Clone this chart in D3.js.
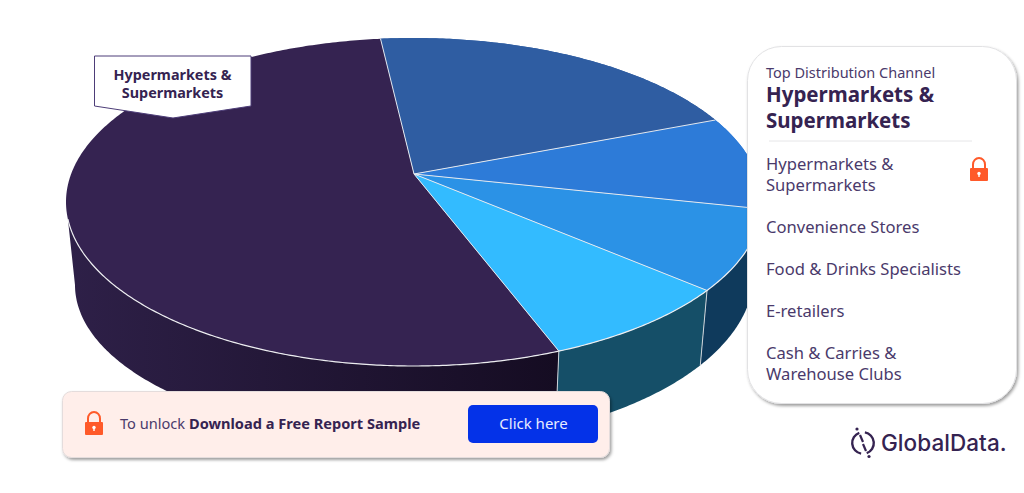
<!DOCTYPE html>
<html><head><meta charset="utf-8">
<script src="https://cdn.jsdelivr.net/npm/d3@7"></script>
<style>html,body{margin:0;padding:0;background:#fff;overflow:hidden}svg{display:block}text{font-family:"Noto Sans",sans-serif}</style>
</head><body><svg id="c" width="1024" height="493"></svg>
<script>
const categories=["Hypermarkets & Supermarkets","Convenience Stores","Food & Drinks Specialists","E-retailers","Cash & Carries & Warehouse Clubs"];
const legendLines=[["Hypermarkets &","Supermarkets"],["Convenience Stores"],["Food & Drinks Specialists"],["E-retailers"],["Cash & Carries &","Warehouse Clubs"]];
const shares=[55.3,18.2,9.0,8.4,9.1];
const topColors=["#352351","#2f5da2","#2d7bd8","#2b92e6","#33bbff"];
const sideColors=["url(#sideDark)","#2f5da2","#2d7bd8","#0f3a5c","#154f68"];
const calloutLines=["Hypermarkets &","Supermarkets"];
const panelLabel="Top Distribution Channel";
const panelTitle=["Hypermarkets &","Supermarkets"];
const itemBaselines=[[170,191],[233],[275],[317],[359,380]];

const svg=d3.select("#c");
const defs=svg.append("defs");
const g=defs.append("linearGradient").attr("id","sideDark").attr("gradientUnits","userSpaceOnUse").attr("x1",66).attr("x2",558).attr("y1",0).attr("y2",0);
g.append("stop").attr("offset",0).attr("stop-color","#2e2048");
g.append("stop").attr("offset",1).attr("stop-color","#150c22");
const f=defs.append("filter").attr("id","sh").attr("x","-10%").attr("y","-10%").attr("width","120%").attr("height","125%");
f.append("feDropShadow").attr("dx",1.5).attr("dy",2).attr("stdDeviation",1.6).attr("flood-color","#000").attr("flood-opacity",.38);

const T={cx:414,cy:202,rx:348,ry:164}, BR={cx:414,cy:273,rx:340,ry:171}, BL={cx:414,cy:285,rx:339,ry:155}, apex=[414,174];
const rad=d=>d*Math.PI/180;
const start=rad(155.4), wallEndTop=rad(264), wallEndBottom=rad(270);
const arcs=d3.pie().sort(null).value(d=>d).startAngle(start).endAngle(start+2*Math.PI)(shares);
const pt=(E,a)=>[E.cx+E.rx*Math.sin(a),E.cy-E.ry*Math.cos(a)];
const ptB=a=>pt(Math.sin(a)<0?BL:BR,a);
const line=d3.line();
const samples=(a0,a1)=>{const n=Math.max(2,Math.ceil((a1-a0)/0.01));return d3.range(n+1).map(i=>a0+(a1-a0)*i/n)};
const pie=svg.append("g");
// side walls
arcs.forEach((d,i)=>{
  const a0=d.startAngle, a1=d.endAngle;
  const topS=i===0?samples(a0,wallEndTop):samples(a0,a1);
  const botS=i===0?samples(a0,wallEndBottom):samples(a0,a1);
  pie.append("path").attr("d",line([...topS.map(a=>pt(T,a)),...botS.slice().reverse().map(ptB)])+"Z").attr("fill",sideColors[i]);
});
// wall edges
[arcs[0].startAngle,arcs[4].startAngle].forEach(a=>{
  pie.append("path").attr("d",line([pt(T,a),ptB(a)])).attr("stroke","#cfd4da").attr("stroke-width",1).attr("fill","none");
});
// top face
arcs.forEach((d,i)=>{
  const s=samples(d.startAngle,d.endAngle);
  pie.append("path").attr("d",line([apex,...s.map(a=>pt(T,a))])+"Z").attr("fill",topColors[i]);
});
// slice dividers and rim highlight
arcs.forEach(d=>{
  pie.append("path").attr("d",line([apex,pt(T,d.startAngle)])).attr("stroke","#e4e8ee").attr("stroke-width",1).attr("fill","none");
});
pie.append("path").attr("d",line(samples(rad(90),rad(264)).map(a=>pt(T,a)))).attr("fill","none").attr("stroke","#ecedf0").attr("stroke-width",1.2);

// callout on pie
svg.append("path").attr("d","M94.5 56H251V106L173 118L94.5 106Z").attr("fill","#fff").attr("stroke","#4d3d78").attr("stroke-width",1);
calloutLines.forEach((t,i)=>svg.append("text").attr("x",172.5).attr("y",80+i*18).attr("text-anchor","middle").attr("font-size",14.4).attr("font-weight",700).attr("fill","#352351").text(t));

function lock(x,y,s){
  const l=svg.append("g").attr("transform",`translate(${x},${y}) scale(${s})`);
  l.append("path").attr("d","M-6 -1V-5.5A6 6.5 0 0 1 6 -5.5V-1").attr("fill","none").attr("stroke","#ff5a2a").attr("stroke-width",2);
  l.append("rect").attr("x",-9).attr("y",-2).attr("width",18).attr("height",13).attr("rx",1).attr("fill","#ff5a2a");
  l.append("circle").attr("cx",0).attr("cy",3.5).attr("r",1.7).attr("fill","#fff");
  l.append("rect").attr("x",-.7).attr("y",3.5).attr("width",1.4).attr("height",3.5).attr("fill","#fff");
}

// right panel
svg.append("rect").attr("x",747.5).attr("y",46.5).attr("width",269).attr("height",357).attr("rx",34).attr("fill","#fff").attr("stroke","#e2e2e4").attr("filter","url(#sh)");
svg.append("text").attr("x",766).attr("y",78).attr("font-size",14.5).attr("fill","#4a3a6b").text(panelLabel);
panelTitle.forEach((t,i)=>svg.append("text").attr("x",766).attr("y",102+i*26).attr("font-size",20.5).attr("font-weight",700).attr("fill","#352351").text(t));
svg.append("line").attr("x1",769).attr("x2",972).attr("y1",141).attr("y2",141).attr("stroke","#e6e6e8");
legendLines.forEach((ls,i)=>ls.forEach((t,j)=>svg.append("text").attr("x",766).attr("y",itemBaselines[i][j]).attr("font-size",16.6).attr("fill","#4a3a6b").text(t)));
lock(979,170,1);

// unlock banner
svg.append("rect").attr("x",62.5).attr("y",391.5).attr("width",547).attr("height",66).attr("rx",9).attr("fill","#ffeeea").attr("stroke","#e4dcdc").attr("filter","url(#sh)");
lock(94,424,1);
const tx=svg.append("text").attr("x",120).attr("y",429).attr("font-size",14.6).attr("fill","#4a3a6b");
tx.append("tspan").text("To unlock ");
tx.append("tspan").attr("font-weight",700).attr("fill","#352351").text("Download a Free Report Sample");
svg.append("rect").attr("x",468).attr("y",405).attr("width",130).attr("height",38).attr("rx",5).attr("fill","#0432e8");
svg.append("text").attr("x",533.5).attr("y",429).attr("text-anchor","middle").attr("font-size",15).attr("fill","#e8ecff").text("Click here");

// logo
const ring=d3.arc().innerRadius(9.6).outerRadius(12);
const lg=svg.append("g").attr("transform","translate(863,443)").attr("fill","#352351");
lg.append("path").attr("d",ring({startAngle:rad(190),endAngle:rad(340)}));
lg.append("path").attr("d",ring({startAngle:rad(10),endAngle:rad(160)}));
lg.append("path").attr("d","M-3 -8L0 -1M0 1L3 8").attr("fill","none").attr("stroke","#352351").attr("stroke-width",2.2);
lg.append("circle").attr("cx",-6).attr("cy",-14).attr("r",1.6);
lg.append("circle").attr("cx",6).attr("cy",13.5).attr("r",1.6);
svg.append("text").attr("x",881).attr("y",451).attr("font-size",22.5).attr("font-weight",500).attr("fill","#352351").style("font-family","Inter").attr("letter-spacing",.05).text("GlobalData.");
</script></body></html>
